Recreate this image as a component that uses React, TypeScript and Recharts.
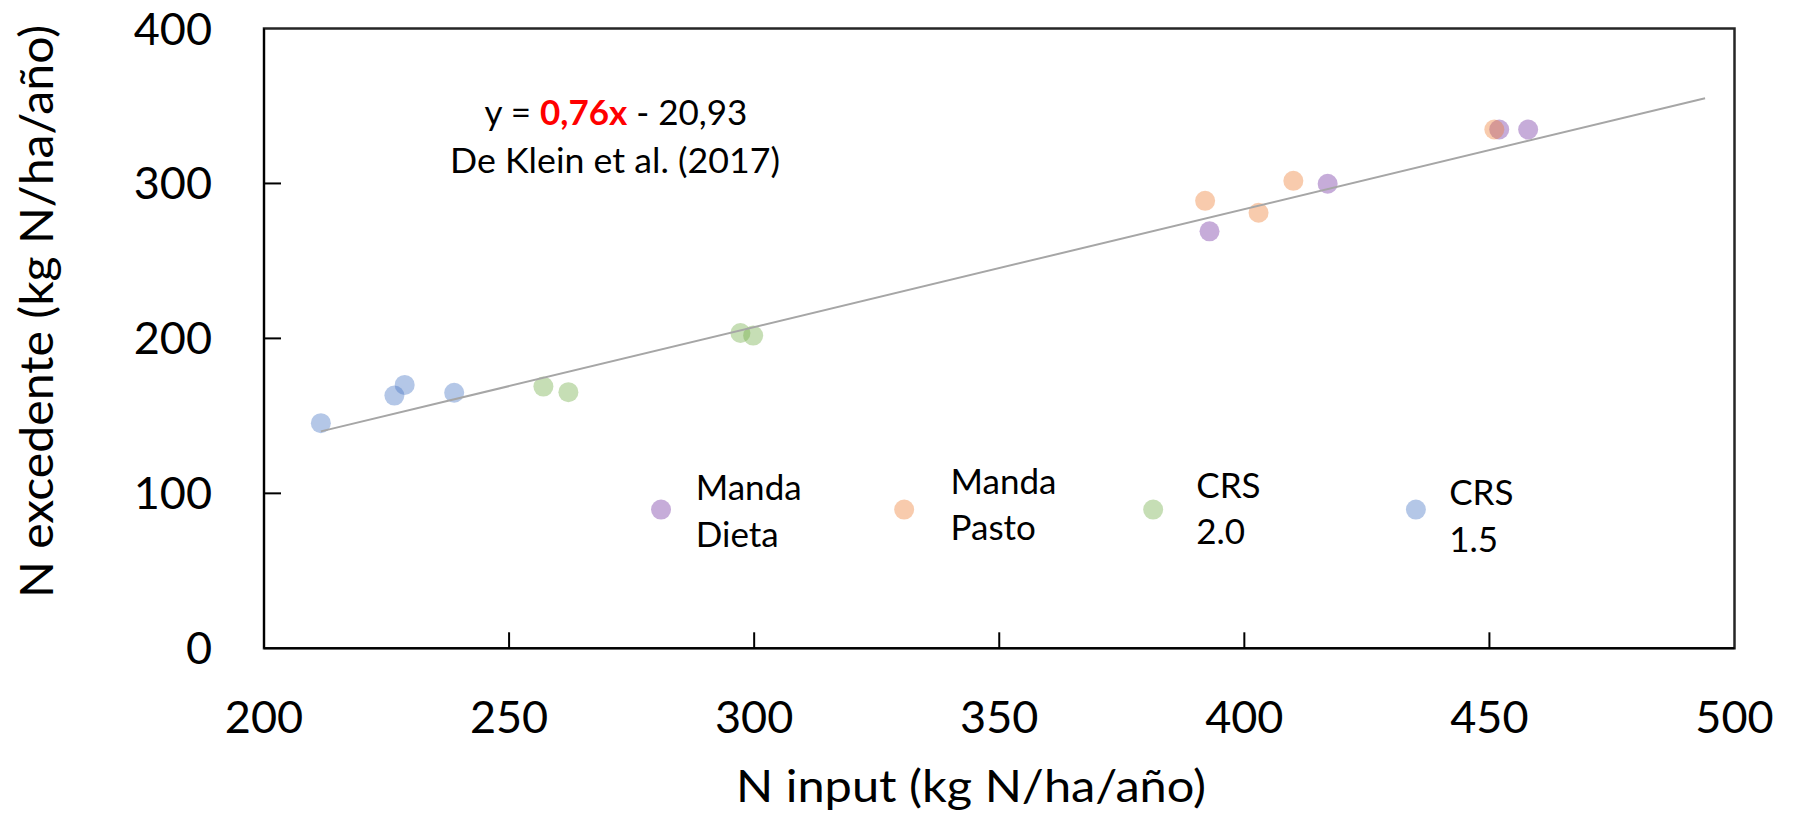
import { Customized, ReferenceArea, Scatter, ScatterChart, XAxis, YAxis } from "recharts";

// values
const DIETA_X = [392.9, 417.0, 452.0, 457.9];
const DIETA_Y = [269.1, 299.8, 334.8, 334.8];
const PASTO_X = [392.0, 402.9, 410.0, 451.0];
const PASTO_Y = [288.8, 281.1, 301.7, 334.8];
const CRS20_X = [257.0, 262.1, 297.2, 299.8];
const CRS20_Y = [168.9, 165.3, 203.5, 201.8];
const CRS15_X = [211.6, 226.6, 228.7, 238.8];
const CRS15_Y = [145.3, 163.1, 170.0, 164.9];

const TREND_X = [211.6, 494];
const TREND_Y = [140, 355];

const LEGEND_LINES = [
  ["Manda", "Dieta"],
  ["Manda", "Pasto"],
  ["CRS", "2.0"],
  ["CRS", "1.5"],
];
const LEGEND_X = [281, 330.6, 381.4, 435];
const LEGEND_Y = [89.5, 89.5, 89.5, 89.5];

const X_TICKS = [200, 250, 300, 350, 400, 450, 500];
const Y_TICKS = [0, 100, 200, 300, 400];

const COLORS = ["#7030A0", "#ED7D31", "#70AD47", "#4472C4"];
// label position relative to legend dot (dx, dy of first baseline)
const LEGEND_OFFSETS = [
  [34.7, -9.3],
  [46.4, -16],
  [43.1, -12],
  [33.3, -4.3],
];

const FONT = "Lato, 'Open Sans', sans-serif";
const DOT_R = 10;
const PLOT_LEFT = 264;
const PLOT_TOP = 28.5;
const PLOT_BOTTOM = 648.3;
const PLOT_RIGHT = 1734.5;
const WIDTH = 1795;
const HEIGHT = 823;

const toPoints = (xs: number[], ys: number[]) => xs.map((x, i) => ({ x, y: ys[i] }));

const legendData = LEGEND_X.map((x, i) => ({
  x,
  y: LEGEND_Y[i],
  lines: LEGEND_LINES[i],
  color: COLORS[i],
  dx: LEGEND_OFFSETS[i][0],
  dy: LEGEND_OFFSETS[i][1],
}));

const dot = (color: string) => (props: any) => (
  <circle cx={props.cx} cy={props.cy} r={DOT_R} fill={color} fillOpacity={0.4} />
);

const LegendMarker = (props: any) => {
  const { cx, cy, payload } = props;
  const tx = cx + payload.dx;
  return (
    <g>
      <circle cx={cx} cy={cy} r={DOT_R} fill={payload.color} fillOpacity={0.4} />
      <text x={tx} y={cy + payload.dy} fontFamily={FONT} fontSize={35} fill="#000">
        <tspan x={tx}>{payload.lines[0]}</tspan>
        <tspan x={tx} dy={46.5}>
          {payload.lines[1]}
        </tspan>
      </text>
    </g>
  );
};

const XTick = (props: any) => {
  const { x, payload } = props;
  const v = payload.value;
  return (
    <g>
      {v !== 200 && v !== 500 && (
        <line x1={x} x2={x} y1={PLOT_BOTTOM} y2={PLOT_BOTTOM - 16} stroke="#000" strokeWidth={2} />
      )}
      <text x={x} y={PLOT_BOTTOM + 85} textAnchor="middle" fontFamily={FONT} fontSize={45} fill="#000">
        {v}
      </text>
    </g>
  );
};

const YTick = (props: any) => {
  const { y, payload } = props;
  const v = payload.value;
  return (
    <g>
      {v !== 0 && v !== 400 && (
        <line x1={PLOT_LEFT} x2={PLOT_LEFT + 17} y1={y} y2={y} stroke="#000" strokeWidth={2} />
      )}
      <text x={212} y={y + 16} textAnchor="end" fontFamily={FONT} fontSize={45} fill="#000">
        {v}
      </text>
    </g>
  );
};

const Texts = () => (
  <g fontFamily={FONT} fill="#000">
    <text x={971} y={802} textAnchor="middle" fontSize={44} textLength={470} lengthAdjust="spacingAndGlyphs">
      N input (kg N/ha/año)
    </text>
    <text
      x={53}
      y={311.5}
      transform="rotate(-90, 53, 311.5)"
      textAnchor="middle"
      fontSize={46}
      textLength={573}
      lengthAdjust="spacingAndGlyphs"
    >
      N excedente (kg N/ha/año)
    </text>
    <text x={616} y={125} textAnchor="middle" fontSize={35}>
      <tspan>y = </tspan>
      <tspan fill="#FF0000" fontWeight="bold">
        0,76x
      </tspan>
      <tspan> - 20,93</tspan>
    </text>
    <text x={615} y={173} textAnchor="middle" fontSize={35} textLength={330} lengthAdjust="spacingAndGlyphs">
      De Klein et al. (2017)
    </text>
  </g>
);

export default function App() {
  return (
    <div style={{ position: "absolute", left: 0, top: 0, width: WIDTH, height: HEIGHT, background: "#fff" }}>
      <ScatterChart
        width={WIDTH}
        height={HEIGHT}
        margin={{ top: PLOT_TOP, right: WIDTH - PLOT_RIGHT, bottom: HEIGHT - PLOT_BOTTOM - 100, left: PLOT_LEFT - 100 }}
      >
        <XAxis
          type="number"
          dataKey="x"
          domain={[200, 500]}
          ticks={X_TICKS}
          interval={0}
          height={100}
          axisLine={{ stroke: "#000", strokeWidth: 2 }}
          tickLine={false}
          tick={<XTick />}
        />
        <YAxis
          type="number"
          dataKey="y"
          domain={[0, 400]}
          ticks={Y_TICKS}
          interval={0}
          width={100}
          axisLine={{ stroke: "#000", strokeWidth: 2 }}
          tickLine={false}
          tick={<YTick />}
        />
        <ReferenceArea x1={200} x2={500} y1={0} y2={400} fill="none" stroke="#262626" strokeWidth={2.5} />
        <Scatter data={toPoints(DIETA_X, DIETA_Y)} shape={dot(COLORS[0])} isAnimationActive={false} />
        <Scatter data={toPoints(PASTO_X, PASTO_Y)} shape={dot(COLORS[1])} isAnimationActive={false} />
        <Scatter data={toPoints(CRS20_X, CRS20_Y)} shape={dot(COLORS[2])} isAnimationActive={false} />
        <Scatter data={toPoints(CRS15_X, CRS15_Y)} shape={dot(COLORS[3])} isAnimationActive={false} />
        <Scatter data={legendData} shape={<LegendMarker />} isAnimationActive={false} />
        <Scatter
          data={toPoints(TREND_X, TREND_Y)}
          line={{ stroke: "#A6A6A6", strokeWidth: 2 }}
          shape={() => <g />}
          isAnimationActive={false}
        />
        <Customized component={Texts} />
      </ScatterChart>
    </div>
  );
}
